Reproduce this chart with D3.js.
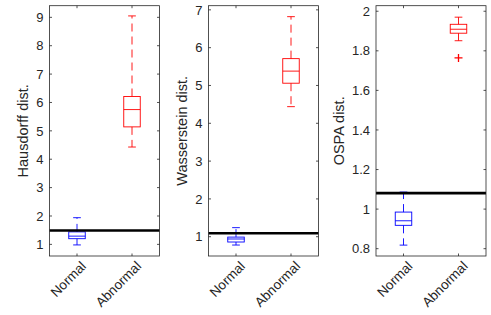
<!DOCTYPE html>
<html>
<head>
<meta charset="utf-8">
<script src="https://cdn.jsdelivr.net/npm/d3@7"></script>
<style>
  body { margin: 0; background: #fff; }
  text { font-family: "Liberation Sans", Arial, sans-serif; fill: #262626; }
</style>
</head>
<body>
<div id="chart"></div>
<script>
// categories on every panel
var categories = ["Normal", "Abnormal"];

// box stats per group: [lower whisker, q1, median, q3, upper whisker]
var hausdorffNormal = [0.98, 1.20, 1.29, 1.44, 1.94];
var hausdorffAbnormal = [4.43, 5.14, 5.75, 6.21, 9.05];
var wassersteinNormal = [0.78, 0.86, 0.94, 0.99, 1.24];
var wassersteinAbnormal = [4.44, 5.06, 5.38, 5.71, 6.82];
var ospaNormal = [0.818, 0.918, 0.941, 0.985, 1.086];
var ospaAbnormal = [1.851, 1.889, 1.909, 1.934, 1.970];

// outliers (abnormal group)
var hausdorffOutliers = [];
var wassersteinOutliers = [];
var ospaOutliers = [1.764];

// threshold lines
var thresholds = [1.49, 1.09, 1.081];

// y ticks
var hausdorffTicks = [1, 2, 3, 4, 5, 6, 7, 8, 9];
var wassersteinTicks = [1, 2, 3, 4, 5, 6, 7];
var ospaTicks = [0.8, 1, 1.2, 1.4, 1.6, 1.8, 2];

var panels = [
  { label: "Hausdorff dist.", left: 49.5, labelDx: -27, domain: [0.59, 9.41],
    stats: [hausdorffNormal, hausdorffAbnormal], outliers: hausdorffOutliers,
    ticks: hausdorffTicks, thr: thresholds[0] },
  { label: "Wasserstein dist.", left: 208.5, labelDx: -27, domain: [0.49, 7.11],
    stats: [wassersteinNormal, wassersteinAbnormal], outliers: wassersteinOutliers,
    ticks: wassersteinTicks, thr: thresholds[1] },
  { label: "OSPA dist.", left: 376, labelDx: -37.5, domain: [0.763, 2.028],
    stats: [ospaNormal, ospaAbnormal], outliers: ospaOutliers,
    ticks: ospaTicks, thr: thresholds[2] }
];

var W = 491, H = 315;
var plotTop = 5.7, plotBottom = 256, pw = 110;
var colors = ["#0000ff", "#ff0000"];
var tickLen = 2.5;

var svg = d3.select("#chart").append("svg")
  .attr("width", W).attr("height", H);

panels.forEach(function(p) {
  var g = svg.append("g").attr("transform", "translate(" + p.left + ",0)");

  var x = d3.scaleLinear().domain([0.5, 2.5]).range([0, pw]);
  var y = d3.scaleLinear().domain(p.domain).range([plotBottom, plotTop]);

  // y tick labels + inner ticks on both sides
  var yAxis = d3.axisLeft(y).tickValues(p.ticks).tickSize(0).tickPadding(6)
    .tickFormat(d3.format("~g"));
  var ya = g.append("g").call(yAxis);
  ya.select(".domain").remove();
  ya.selectAll("text").style("font-size", "13px").attr("fill", "#262626");

  p.ticks.forEach(function(t) {
    g.append("line").attr("x1", 0).attr("x2", tickLen)
      .attr("y1", y(t)).attr("y2", y(t)).attr("stroke", "#262626").attr("stroke-width", 0.8);
    g.append("line").attr("x1", pw - tickLen).attr("x2", pw)
      .attr("y1", y(t)).attr("y2", y(t)).attr("stroke", "#262626").attr("stroke-width", 0.8);
  });
  [1, 2].forEach(function(c) {
    g.append("line").attr("x1", x(c)).attr("x2", x(c))
      .attr("y1", plotBottom).attr("y2", plotBottom - tickLen).attr("stroke", "#262626").attr("stroke-width", 0.8);
    g.append("line").attr("x1", x(c)).attr("x2", x(c))
      .attr("y1", plotTop).attr("y2", plotTop + tickLen).attr("stroke", "#262626").attr("stroke-width", 0.8);
  });

  // boxes
  var bw = 0.3, cw = 0.14;
  p.stats.forEach(function(s, i) {
    var c = i + 1, col = colors[i];
    var bg = g.append("g");
    function seg(x1, x2, y1, y2, dash) {
      var l = bg.append("line").attr("x1", x1).attr("x2", x2).attr("y1", y1).attr("y2", y2)
        .attr("stroke", col).attr("stroke-width", 0.9);
      if (dash) l.attr("stroke-dasharray", dash);
    }
    // whiskers (dashed) and caps
    seg(x(c), x(c), y(s[3]), y(s[4]), "8,5");
    seg(x(c), x(c), y(s[1]), y(s[0]), "8,5");
    seg(x(c - cw / 2), x(c + cw / 2), y(s[4]), y(s[4]));
    seg(x(c - cw / 2), x(c + cw / 2), y(s[0]), y(s[0]));
    // box
    bg.append("rect").attr("x", x(c - bw / 2)).attr("width", x(c + bw / 2) - x(c - bw / 2))
      .attr("y", y(s[3])).attr("height", y(s[1]) - y(s[3]))
      .attr("fill", "none").attr("stroke", col).attr("stroke-width", 0.9);
    // median
    seg(x(c - bw / 2), x(c + bw / 2), y(s[2]), y(s[2]));
  });

  // outliers as red plus marks
  p.outliers.forEach(function(o) {
    var cx = x(2), cy = y(o);
    g.append("path").attr("d", "M" + (cx - 4) + "," + cy + "H" + (cx + 4) + "M" + cx + "," + (cy - 4) + "V" + (cy + 4))
      .attr("stroke", "#ff0000").attr("stroke-width", 1.3).attr("fill", "none");
  });

  // threshold
  g.append("line").attr("x1", 0).attr("x2", pw).attr("y1", y(p.thr)).attr("y2", y(p.thr))
    .attr("stroke", "#000").attr("stroke-width", 2.6);

  // frame
  g.append("rect").attr("x", 0).attr("y", plotTop).attr("width", pw).attr("height", plotBottom - plotTop)
    .attr("fill", "none").attr("stroke", "#262626").attr("stroke-width", 0.8);

  // x labels rotated
  categories.forEach(function(cat, i) {
    g.append("text")
      .attr("transform", "translate(" + (x(i + 1) + 10) + "," + (plotBottom + 11) + ") rotate(-45)")
      .attr("text-anchor", "end")
      .style("font-size", "13.5px")
      .text(cat);
  });

  // y label
  g.append("text")
    .attr("transform", "translate(" + p.labelDx + "," + ((plotTop + plotBottom) / 2) + ") rotate(-90)")
    .attr("text-anchor", "middle")
    .attr("dy", "0.35em")
    .style("font-size", "14.5px")
    .text(p.label);
});
</script>
</body>
</html>
